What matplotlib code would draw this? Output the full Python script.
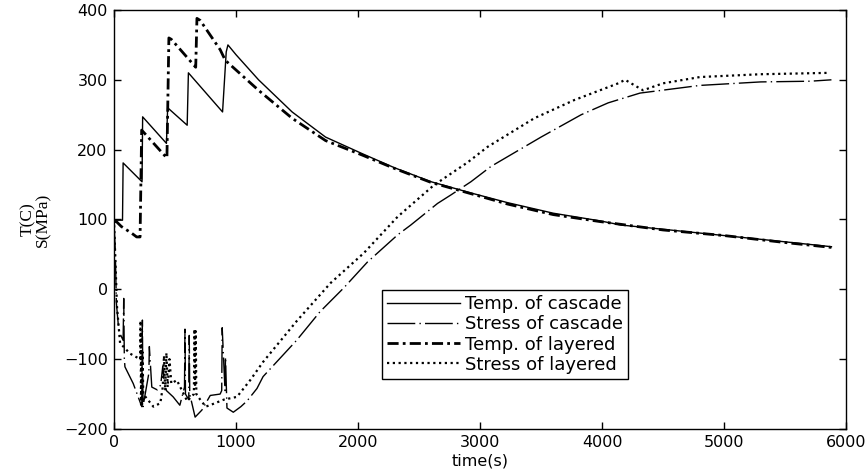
import matplotlib
matplotlib.use("Agg")
import matplotlib.pyplot as plt

# temperature of cascade welding (C)
t_tc = [0, 5, 70, 75, 230, 235, 430, 440, 600, 610, 890, 920, 934, 1000, 1185, 1460,
        1734, 2038, 2300, 2600, 2925, 3228, 3600, 3984, 4158, 4500, 5000, 5500, 5880]
v_tc = [95, 99, 99, 181, 154, 247, 209, 260, 235, 310, 254, 340, 350, 336, 300, 254,
        218, 194, 174, 154, 138, 124, 109, 98, 92, 86, 77, 68, 61]

# stress of cascade welding (MPa)
t_sc = [0, 10, 20, 40, 75, 80, 85, 90, 158, 228, 233, 238, 286, 290, 310, 355, 383,
        400, 410, 430, 485, 540, 578, 582, 586, 613, 617, 621, 665, 720, 789, 870,
        883, 887, 910, 914, 926, 978, 1040, 1090, 1172, 1222, 1497, 1689, 1883, 2077,
        2325, 2432, 2652, 2760, 2925, 3090, 3500, 3829, 4050, 4311, 4803, 5300, 5705,
        5880]
v_sc = [95, 60, -20, -60, -73, -13, -100, -111, -135, -168, -44, -168, -120, -82,
        -140, -144, -137, -110, -130, -145, -154, -166, -140, -57, -150, -158, -66,
        -150, -183, -173, -152, -150, -145, -55, -145, -97, -170, -176, -168, -160,
        -142, -125, -73, -32, 2, 39, 78, 92, 123, 135, 154, 176, 218, 250, 267, 281,
        292, 297, 298, 300]

# temperature of layered welding (C)
t_tl = [0, 20, 60, 148, 186, 214, 227, 434, 450, 470, 670, 680, 707, 871, 912, 1185,
        1460, 1734, 2038, 2300, 2600, 2925, 3228, 3600, 3984, 4500, 5000, 5500, 5880]
v_tl = [97, 97, 90, 80, 75, 75, 228, 188, 360, 358, 318, 388, 385, 343, 328, 285,
        245, 213, 192, 173, 153, 137, 122, 107, 97, 85, 77, 67, 60]

# stress of layered welding (MPa)
t_sl = [0, 10, 25, 50, 131, 214, 218, 222, 226, 230, 234, 240, 323, 380, 400, 410,
        420, 430, 440, 455, 470, 515, 600, 655, 660, 665, 670, 675, 707, 752, 800,
        900, 1008, 1117, 1222, 1500, 1775, 2048, 2325, 2621, 2900, 3062, 3445, 3772,
        4133, 4189, 4336, 4500, 4803, 5300, 5869]
v_sl = [100, 50, -25, -77, -92, -100, -45, -165, -60, -168, -90, -150, -168, -163,
        -140, -95, -145, -91, -140, -100, -135, -130, -160, -150, -57, -140, -60,
        -150, -158, -168, -165, -158, -154, -130, -104, -45, 9, 52, 104, 149, 182, 204,
        245, 271, 295, 300, 285, 295, 304, 308, 310]

labels = ["Temp. of cascade", "Stress of cascade", "Temp. of layered", "Stress of layered"]

fig = plt.figure(figsize=(8.66, 4.71), dpi=100)
ax = fig.add_axes([0.1316, 0.0892, 0.977 - 0.1316, 0.9788 - 0.0892])

ax.plot(t_tc, v_tc, color="black", lw=1.0, ls="-", label=labels[0])
ax.plot(t_sc, v_sc, color="black", lw=1.0, ls=(0, (20, 3, 1, 3)), label=labels[1])
ax.plot(t_tl, v_tl, color="black", lw=2.0, ls=(0, (4, 1.5, 1, 1.5)), label=labels[2])
ax.plot(t_sl, v_sl, color="black", lw=1.6, ls=(0, (1, 1.6)), label=labels[3])

ax.set_xlim(0, 6000)
ax.set_ylim(-200, 400)
ax.set_xticks(range(0, 6001, 1000))
ax.set_yticks(range(-200, 401, 100))
ax.tick_params(direction="in", top=True, right=True, length=5, width=1,
               labelsize=11.5, pad=4.5)
for s in ax.spines.values():
    s.set_linewidth(1.0)

ax.set_xlabel("time(s)", fontsize=11.5, labelpad=2)
ax.set_ylabel("T(C)\nS(MPa)", fontsize=12.5, family="Liberation Serif",
              linespacing=0.95, labelpad=9)

leg = ax.legend(loc="upper left", bbox_to_anchor=(0.366, 0.332), fontsize=13,
                frameon=True, fancybox=False, edgecolor="black", framealpha=1,
                handlelength=4.0, borderpad=0.3, labelspacing=0.12,
                handletextpad=0.3, borderaxespad=0)
leg.get_frame().set_linewidth(1.0)

fig.savefig("out.png", dpi=100, facecolor="white")
